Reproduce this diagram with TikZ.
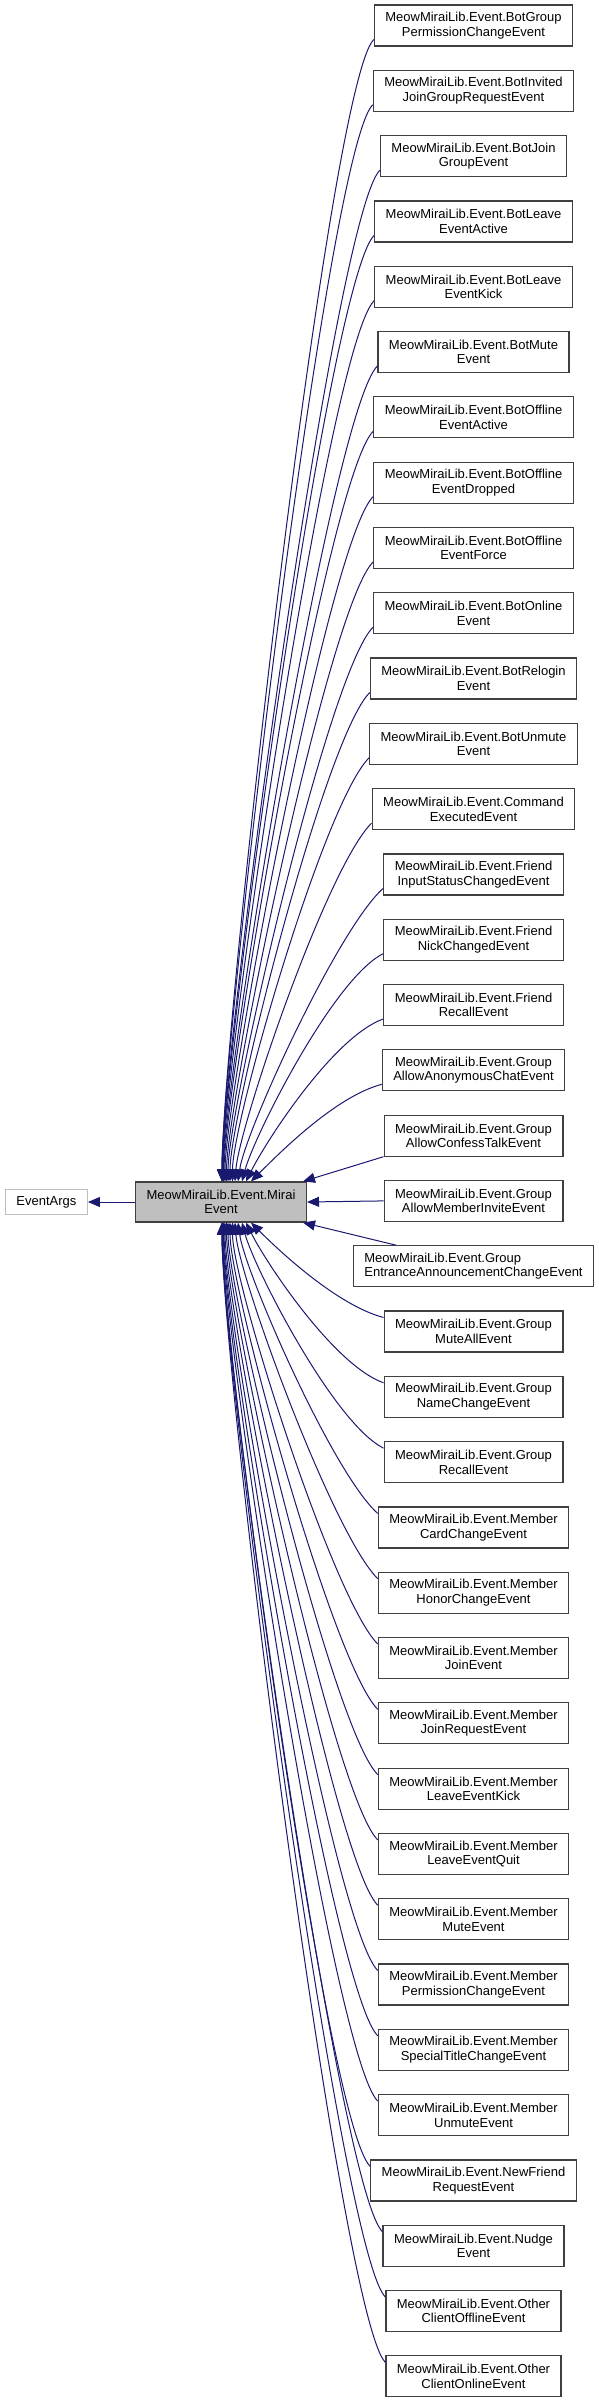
\documentclass[tikz,border=0pt]{standalone}
\usepackage{fontspec}
\setmainfont{Liberation Sans}
\usepackage{tikz}
\usetikzlibrary{arrows.meta, positioning, calc}
\definecolor{edgeblue}{RGB}{25,25,112}
\definecolor{basegray}{RGB}{191,191,191}
\definecolor{boxdark}{RGB}{64,64,64}
\tikzset{
  klass/.style={rectangle, minimum height=41pt, inner xsep=11pt, inner ysep=2pt, align=center, draw=boxdark, fill=white, font=\fontsize{13}{14.5}\selectfont, line width=1.2pt},
  klassB/.style={klass, fill=basegray},
  klassX/.style={klass, draw=basegray, minimum height=25pt},
  arrow/.style={-{Triangle[length=12pt, width=10pt]}, draw=edgeblue, line width=1pt},
}

\begin{document}
\begin{tikzpicture}[x=1pt, y=1pt, node distance=23.1pt]
\useasboundingbox (0,0) rectangle (599,-2404);
\node (bgroupperm) [klass] at (473.5,-25.5) {MeowMiraiLib.Event.BotGroup\\PermissionChangeEvent};
\node (binvited)   [klass, below=of bgroupperm] {MeowMiraiLib.Event.BotInvited\\JoinGroupRequestEvent};
\node (bjoin)      [klass, below=of binvited]   {MeowMiraiLib.Event.BotJoin\\GroupEvent};
\node (bleaveact)  [klass, below=of bjoin]      {MeowMiraiLib.Event.BotLeave\\EventActive};
\node (bleavekick) [klass, below=of bleaveact]  {MeowMiraiLib.Event.BotLeave\\EventKick};
\node (bmute)      [klass, below=of bleavekick] {MeowMiraiLib.Event.BotMute\\Event};
\node (bofflact)   [klass, below=of bmute]      {MeowMiraiLib.Event.BotOffline\\EventActive};
\node (boffldrop)  [klass, below=of bofflact]   {MeowMiraiLib.Event.BotOffline\\EventDropped};
\node (bofflforce) [klass, below=of boffldrop]  {MeowMiraiLib.Event.BotOffline\\EventForce};
\node (bonline)    [klass, below=of bofflforce] {MeowMiraiLib.Event.BotOnline\\Event};
\node (brelogin)   [klass, below=of bonline]    {MeowMiraiLib.Event.BotRelogin\\Event};
\node (bunmute)    [klass, below=of brelogin]   {MeowMiraiLib.Event.BotUnmute\\Event};
\node (cmdexec)    [klass, below=of bunmute]    {MeowMiraiLib.Event.Command\\ExecutedEvent};
\node (finput)     [klass, below=of cmdexec]    {MeowMiraiLib.Event.Friend\\InputStatusChangedEvent};
\node (fnick)      [klass, below=of finput]     {MeowMiraiLib.Event.Friend\\NickChangedEvent};
\node (frecall)    [klass, below=of fnick]      {MeowMiraiLib.Event.Friend\\RecallEvent};
\node (ganon)      [klass, below=of frecall]    {MeowMiraiLib.Event.Group\\AllowAnonymousChatEvent};
\node (gconfess)   [klass, below=of ganon]      {MeowMiraiLib.Event.Group\\AllowConfessTalkEvent};
\node (ginvite)    [klass, below=of gconfess]   {MeowMiraiLib.Event.Group\\AllowMemberInviteEvent};
\node (gentrance)  [klass, below=of ginvite, align=left] {MeowMiraiLib.Event.Group\\EntranceAnnouncementChangeEvent};
\node (gmuteall)   [klass, below=of gentrance]  {MeowMiraiLib.Event.Group\\MuteAllEvent};
\node (gname)      [klass, below=of gmuteall]   {MeowMiraiLib.Event.Group\\NameChangeEvent};
\node (grecall)    [klass, below=of gname]      {MeowMiraiLib.Event.Group\\RecallEvent};
\node (mcard)      [klass, below=of grecall]    {MeowMiraiLib.Event.Member\\CardChangeEvent};
\node (mhonor)     [klass, below=of mcard]      {MeowMiraiLib.Event.Member\\HonorChangeEvent};
\node (mjoin)      [klass, below=of mhonor]     {MeowMiraiLib.Event.Member\\JoinEvent};
\node (mjoinreq)   [klass, below=of mjoin]      {MeowMiraiLib.Event.Member\\JoinRequestEvent};
\node (mleavekick) [klass, below=of mjoinreq]   {MeowMiraiLib.Event.Member\\LeaveEventKick};
\node (mleavequit) [klass, below=of mleavekick] {MeowMiraiLib.Event.Member\\LeaveEventQuit};
\node (mmute)      [klass, below=of mleavequit] {MeowMiraiLib.Event.Member\\MuteEvent};
\node (mperm)      [klass, below=of mmute]      {MeowMiraiLib.Event.Member\\PermissionChangeEvent};
\node (mtitle)     [klass, below=of mperm]      {MeowMiraiLib.Event.Member\\SpecialTitleChangeEvent};
\node (munmute)    [klass, below=of mtitle]     {MeowMiraiLib.Event.Member\\UnmuteEvent};
\node (newfriend)  [klass, below=of munmute]    {MeowMiraiLib.Event.NewFriend\\RequestEvent};
\node (nudge)      [klass, below=of newfriend]  {MeowMiraiLib.Event.Nudge\\Event};
\node (ocoffline)  [klass, below=of nudge]      {MeowMiraiLib.Event.Other\\ClientOfflineEvent};
\node (oconline)   [klass, below=of ocoffline]  {MeowMiraiLib.Event.Other\\ClientOnlineEvent};
\node (mirai) [klassB, minimum height=40pt] at (221,-1202) {MeowMiraiLib.Event.Mirai\\Event};
\node (eargs) [klassX, left=47pt of mirai] {EventArgs};
\draw[arrow] (mirai.west) -- (eargs.east);
% derived classes above
\draw[arrow] ([yshift=-14pt]bgroupperm.west) .. controls +(-45,-45) and +(0,150) .. ([xshift=1pt]mirai.north);
\draw[arrow] ([yshift=-14pt]binvited.west) .. controls +(-45,-45) and +(0,140) .. ([xshift=1pt]mirai.north);
\draw[arrow] ([yshift=-14pt]bjoin.west) .. controls +(-45,-45) and +(0,130) .. ([xshift=1pt]mirai.north);
\draw[arrow] ([yshift=-14pt]bleaveact.west) .. controls +(-45,-45) and +(0,120) .. ([xshift=1.4pt]mirai.north);
\draw[arrow] ([yshift=-14pt]bleavekick.west) .. controls +(-45,-45) and +(0,110) .. ([xshift=1.8pt]mirai.north);
\draw[arrow] ([yshift=-14pt]bmute.west) .. controls +(-45,-45) and +(0,100) .. ([xshift=2.3pt]mirai.north);
\draw[arrow] ([yshift=-14pt]bofflact.west) .. controls +(-45,-45) and +(0,90) .. ([xshift=3pt]mirai.north);
\draw[arrow] ([yshift=-14pt]boffldrop.west) .. controls +(-45,-45) and +(0,80) .. ([xshift=4pt]mirai.north);
\draw[arrow] ([yshift=-14pt]bofflforce.west) .. controls +(-45,-45) and +(0,75) .. ([xshift=5.5pt]mirai.north);
\draw[arrow] ([yshift=-14pt]bonline.west) .. controls +(-45,-45) and +(0,70) .. ([xshift=7pt]mirai.north);
\draw[arrow] ([yshift=-14pt]brelogin.west) .. controls +(-45,-45) and +(0,65) .. ([xshift=9pt]mirai.north);
\draw[arrow] ([yshift=-14pt]bunmute.west) .. controls +(-45,-45) and +(0,60) .. ([xshift=11.5pt]mirai.north);
\draw[arrow] ([yshift=-14pt]cmdexec.west) .. controls +(-45,-45) and +(4,55) .. ([xshift=14pt]mirai.north);
\draw[arrow] ([yshift=-14pt]finput.west) .. controls +(-45,-40) and +(7,50) .. ([xshift=17pt]mirai.north);
\draw[arrow] ([yshift=-14pt]fnick.west) .. controls +(-50,-25) and +(12,45) .. ([xshift=21pt]mirai.north);
\draw[arrow] ([yshift=-14pt]frecall.west) .. controls +(-50,-18) and +(20,40) .. ([xshift=25pt]mirai.north);
\draw[arrow] ([yshift=-14pt]ganon.west) .. controls +(-45,-12) and +(32,32) .. ([xshift=30pt]mirai.north);
\draw[arrow] (gconfess.south west) -- ([xshift=-4pt]mirai.north east);
\draw[arrow] (ginvite.west) -- (mirai.east);
% derived classes below
\draw[arrow] ([xshift=43pt]gentrance.north west) -- ([xshift=-4pt]mirai.south east);
\draw[arrow] ([yshift=14pt]gmuteall.west) .. controls +(-45,12) and +(32,-32) .. ([xshift=30pt]mirai.south);
\draw[arrow] ([yshift=14pt]gname.west) .. controls +(-50,18) and +(20,-40) .. ([xshift=25pt]mirai.south);
\draw[arrow] ([yshift=14pt]grecall.west) .. controls +(-50,25) and +(12,-45) .. ([xshift=21pt]mirai.south);
\draw[arrow] ([yshift=14pt]mcard.west) .. controls +(-45,40) and +(7,-50) .. ([xshift=17pt]mirai.south);
\draw[arrow] ([yshift=14pt]mhonor.west) .. controls +(-45,45) and +(4,-55) .. ([xshift=14pt]mirai.south);
\draw[arrow] ([yshift=14pt]mjoin.west) .. controls +(-45,45) and +(0,-60) .. ([xshift=11.5pt]mirai.south);
\draw[arrow] ([yshift=14pt]mjoinreq.west) .. controls +(-45,45) and +(0,-65) .. ([xshift=9pt]mirai.south);
\draw[arrow] ([yshift=14pt]mleavekick.west) .. controls +(-45,45) and +(0,-70) .. ([xshift=7pt]mirai.south);
\draw[arrow] ([yshift=14pt]mleavequit.west) .. controls +(-45,45) and +(0,-75) .. ([xshift=5.5pt]mirai.south);
\draw[arrow] ([yshift=14pt]mmute.west) .. controls +(-45,45) and +(0,-80) .. ([xshift=4pt]mirai.south);
\draw[arrow] ([yshift=14pt]mperm.west) .. controls +(-45,45) and +(0,-90) .. ([xshift=3pt]mirai.south);
\draw[arrow] ([yshift=14pt]mtitle.west) .. controls +(-45,45) and +(0,-100) .. ([xshift=2.3pt]mirai.south);
\draw[arrow] ([yshift=14pt]munmute.west) .. controls +(-45,45) and +(0,-110) .. ([xshift=1.8pt]mirai.south);
\draw[arrow] ([yshift=14pt]newfriend.west) .. controls +(-45,45) and +(0,-120) .. ([xshift=1.4pt]mirai.south);
\draw[arrow] ([yshift=14pt]nudge.west) .. controls +(-45,45) and +(0,-130) .. ([xshift=1pt]mirai.south);
\draw[arrow] ([yshift=14pt]ocoffline.west) .. controls +(-45,45) and +(0,-140) .. ([xshift=1pt]mirai.south);
\draw[arrow] ([yshift=14pt]oconline.west) .. controls +(-45,45) and +(0,-150) .. ([xshift=1pt]mirai.south);
\end{tikzpicture}
\end{document}
